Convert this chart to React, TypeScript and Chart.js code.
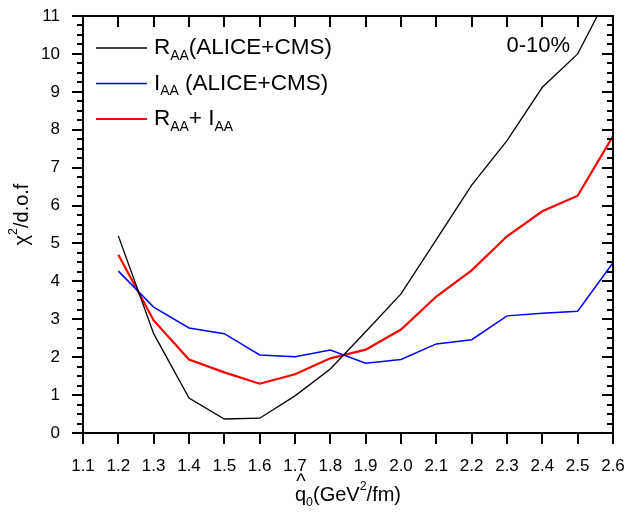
import React, { useEffect, useRef } from "react";
import { Chart, registerables } from "chart.js";

Chart.register(...registerables);

const qValues = [1.2, 1.3, 1.4, 1.5, 1.6, 1.7, 1.8, 1.9, 2.0, 2.1, 2.2, 2.3, 2.4, 2.5, 2.6];
const raaChi2 = [5.2, 2.62, 0.92, 0.37, 0.39, 0.98, 1.69, 2.67, 3.67, 5.1, 6.54, 7.71, 9.12, 10.0, 11.8];
const iaaChi2 = [4.27, 3.32, 2.77, 2.62, 2.06, 2.01, 2.19, 1.84, 1.94, 2.35, 2.46, 3.09, 3.16, 3.21, 4.49];
const combinedChi2 = [4.7, 2.97, 1.94, 1.6, 1.3, 1.55, 1.97, 2.2, 2.73, 3.6, 4.29, 5.19, 5.85, 6.26, 7.83];
const xTickValues = [1.1, 1.2, 1.3, 1.4, 1.5, 1.6, 1.7, 1.8, 1.9, 2.0, 2.1, 2.2, 2.3, 2.4, 2.5, 2.6];
const yTickValues = [0, 1, 2, 3, 4, 5, 6, 7, 8, 9, 10, 11];
const legendEntries = [
  { color: "#000000", width: 1.3, parts: [{ t: "R" }, { t: "AA", sub: true }, { t: "(ALICE+CMS)" }] },
  { color: "#0000ff", width: 1.5, parts: [{ t: "I" }, { t: "AA", sub: true }, { t: " (ALICE+CMS)" }] },
  { color: "#ff0000", width: 2.2, parts: [{ t: "R" }, { t: "AA", sub: true }, { t: "+ I" }, { t: "AA", sub: true }] },
];
const centralityLabel = "0-10%";

const FONT = "Arial, 'Liberation Sans', sans-serif";

type Part = { t: string; sub?: boolean; sup?: boolean };

function drawRich(ctx: CanvasRenderingContext2D, parts: Part[], x: number, y: number, size: number) {
  let cx = x;
  for (const p of parts) {
    const s = p.sub || p.sup ? size * 0.62 : size;
    ctx.font = `${s}px ${FONT}`;
    const dy = p.sub ? size * 0.36 : p.sup ? -size * 0.42 : 0;
    ctx.fillText(p.t, cx, y + dy);
    cx += ctx.measureText(p.t).width;
  }
  return cx - x;
}

function measureRich(ctx: CanvasRenderingContext2D, parts: Part[], size: number) {
  let w = 0;
  for (const p of parts) {
    const s = p.sub || p.sup ? size * 0.62 : size;
    ctx.font = `${s}px ${FONT}`;
    w += ctx.measureText(p.t).width;
  }
  return w;
}

function resetState(ctx: CanvasRenderingContext2D) {
  ctx.setTransform(1, 0, 0, 1, 0, 0);
  ctx.globalAlpha = 1;
  ctx.globalCompositeOperation = "source-over";
  ctx.setLineDash([]);
  ctx.shadowColor = "rgba(0,0,0,0)";
  ctx.shadowBlur = 0;
  (ctx as any).filter = "none";
}

function drawFrame(chart: any) {
  const ctx: CanvasRenderingContext2D = chart.ctx;
  const { left, right, top, bottom } = chart.chartArea;
  const xs = chart.scales.x;
  const ys = chart.scales.y;
  const L = Math.round(left);
  const R = Math.round(right);
  const T = Math.round(top);
  const B = Math.round(bottom);
  ctx.save();
  resetState(ctx);
  ctx.fillStyle = "#000000";
  ctx.fillRect(L - 1, T - 1, R - L + 2, 2);
  ctx.fillRect(L - 1, B - 1, R - L + 2, 2);
  ctx.fillRect(L - 1, T - 1, 2, B - T + 2);
  ctx.fillRect(R - 1, T - 1, 2, B - T + 2);
  for (const v of xTickValues) {
    const px = Math.round(xs.getPixelForValue(v));
    ctx.fillRect(px - 1, B, 2, 11);
    ctx.fillRect(px - 1, T, 2, 11);
  }
  for (let i = 0; i < yTickValues.length; i++) {
    const v = yTickValues[i];
    const py = Math.round(ys.getPixelForValue(v));
    ctx.fillRect(L - 11, py - 1, 11, 2);
    ctx.fillRect(R - 11, py - 1, 11, 2);
    if (i < yTickValues.length - 1) {
      for (let k = 1; k < 4; k++) {
        const pm = Math.round(ys.getPixelForValue(v + k * 0.25));
        ctx.fillRect(L - 6, pm - 1, 6, 2);
        ctx.fillRect(R - 6, pm - 1, 6, 2);
      }
    }
  }
  ctx.restore();
}

const decorPlugin = {
  id: "decor",
  afterDraw(chart: any) {
    const ctx: CanvasRenderingContext2D = chart.ctx;
    const { left, right, top, bottom } = chart.chartArea;
    ctx.save();
    resetState(ctx);

    // legend
    ctx.textBaseline = "middle";
    ctx.textAlign = "left";
    legendEntries.forEach((e, i) => {
      const y = top + 32 + i * 35.5;
      ctx.strokeStyle = e.color;
      ctx.lineWidth = e.width;
      ctx.beginPath();
      ctx.moveTo(left + 13, y);
      ctx.lineTo(left + 64, y);
      ctx.stroke();
      ctx.fillStyle = "#000";
      drawRich(ctx, e.parts, left + 71, y, 22.5);
    });

    ctx.font = `22px ${FONT}`;
    ctx.textAlign = "right";
    ctx.fillText(centralityLabel, right - 43, top + 30);

    // x title
    ctx.textAlign = "left";
    const xParts: Part[] = [{ t: "q" }, { t: "0", sub: true }, { t: "(GeV" }, { t: "2", sup: true }, { t: "/fm)" }];
    const xw = measureRich(ctx, xParts, 20);
    const xStart = (left + right) / 2 - xw / 2;
    const xy = 495;
    drawRich(ctx, xParts, xStart, xy, 20);
    ctx.font = `20px ${FONT}`;
    const qw = ctx.measureText("q").width;
    ctx.fillText("^", xStart + qw / 2 - ctx.measureText("^").width / 2 + 0.5, xy - 13);

    // y title
    ctx.save();
    ctx.translate(22, (top + bottom) / 2 - 10);
    ctx.rotate(-Math.PI / 2);
    const yParts: Part[] = [{ t: "χ" }, { t: "2", sup: true }, { t: "/d.o.f" }];
    const yw = measureRich(ctx, yParts, 20);
    drawRich(ctx, yParts, -yw / 2, 0, 20);
    ctx.restore();
    ctx.restore();

    drawFrame(chart);
  },
};

export default function App() {
  const ref = useRef<HTMLCanvasElement>(null);
  useEffect(() => {
    if (!ref.current) return;
    const chart = new Chart(ref.current, {
      type: "line",
      data: {
        datasets: [
          { label: "RAA", data: qValues.map((q, i) => ({ x: q, y: raaChi2[i] })), borderColor: "#000", borderWidth: 1.3, pointRadius: 0 },
          { label: "IAA", data: qValues.map((q, i) => ({ x: q, y: iaaChi2[i] })), borderColor: "#0000ff", borderWidth: 1.5, pointRadius: 0 },
          { label: "RAA+IAA", data: qValues.map((q, i) => ({ x: q, y: combinedChi2[i] })), borderColor: "#ff0000", borderWidth: 2.2, pointRadius: 0 },
        ],
      },
      options: {
        animation: false,
        responsive: false,
        layout: { padding: { top: 16, right: 15, left: 0, bottom: 0 } },
        plugins: { legend: { display: false } },
        scales: {
          x: {
            type: "linear",
            min: 1.1,
            max: 2.6,
            afterBuildTicks: (s: any) => {
              s.ticks = xTickValues.map((v) => ({ value: v }));
            },
            afterFit: (s: any) => {
              s.height = 80;
              s.paddingLeft = 0;
              s.paddingRight = 0;
            },
            grid: { display: false },
            border: { display: true, color: "#000", width: 2 },
            ticks: {
              color: "#000",
              font: { size: 17, family: FONT },
              padding: 15,
              maxRotation: 0,
              autoSkip: false,
              callback: (v: any) => Number(v).toFixed(1),
            },
          },
          y: {
            type: "linear",
            min: 0,
            max: 11,
            afterBuildTicks: (s: any) => {
              s.ticks = yTickValues.map((v) => ({ value: v }));
            },
            afterFit: (s: any) => {
              s.width = 83;
              s.paddingTop = 0;
              s.paddingBottom = 0;
            },
            grid: { display: false },
            border: { display: true, color: "#000", width: 2 },
            ticks: {
              color: "#000",
              font: { size: 17, family: FONT },
              padding: 15,
              autoSkip: false,
            },
          },
        },
      },
      plugins: [decorPlugin],
    } as any);
    return () => chart.destroy();
  }, []);
  return (
    <div style={{ position: "fixed", left: 0, top: 0, width: 628, height: 513, background: "#fff" }}>
      <canvas ref={ref} width={628} height={513} />
    </div>
  );
}
